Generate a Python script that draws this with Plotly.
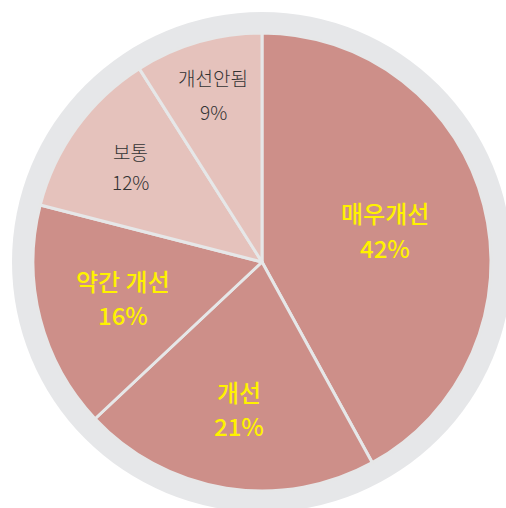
import math
import plotly.graph_objects as go

labels = ["매우개선", "개선", "약간 개선", "보통", "개선안됨"]
values = [42, 21, 16, 12, 9]
pct_labels = ["42%", "21%", "16%", "12%", "9%"]

W, H = 506, 508
CX, CY = 262, 262   # pie center in px (from top-left)
R_PIE = 229
R_RING = 250

dark = "#CD8F89"
light = "#E5C2BC"
slice_colors = [dark, dark, dark, light, light]
text_colors = ["#FFF200", "#FFF200", "#FFF200", "#333333", "#333333"]
text_sizes = [24, 24, 24, 19, 19]
text_weights = [500, 500, 500, 300, 300]
label_radius = [127, 148, 144, 162, 174]      # px distance of label block from center
line_gap = [35, 34, 34, 30, 34]               # px between the two text lines

fig = go.Figure(go.Pie(
    labels=labels,
    values=values,
    sort=False,
    direction="clockwise",
    rotation=0,
    marker=dict(colors=slice_colors, line=dict(color="#E6E7E8", width=3)),
    textinfo="none",
    hoverinfo="label+percent",
    showlegend=False,
    domain=dict(
        x=[(CX - R_PIE) / W, (CX + R_PIE) / W],
        y=[(H - CY - R_PIE) / H, (H - CY + R_PIE) / H],
    ),
))

fig.add_shape(
    type="circle", xref="paper", yref="paper", layer="below",
    x0=(CX - R_RING) / W, x1=(CX + R_RING) / W,
    y0=(H - CY - R_RING) / H, y1=(H - CY + R_RING) / H,
    fillcolor="#E6E7E9", line=dict(width=0),
)

total = sum(values)
cum = 0
for i, v in enumerate(values):
    mid = (cum + v / 2) / total * 2 * math.pi
    cum += v
    px = CX + label_radius[i] * math.sin(mid)
    py = CY - label_radius[i] * math.cos(mid)
    font = dict(family="Noto Sans CJK KR", size=text_sizes[i],
                color=text_colors[i], weight=text_weights[i])
    for txt, dy in ((labels[i], -line_gap[i] / 2), (pct_labels[i], line_gap[i] / 2)):
        fig.add_annotation(
            x=px / W, y=1 - (py + dy) / H, xref="paper", yref="paper",
            text=txt, showarrow=False, font=font,
            xanchor="center", yanchor="middle",
        )

fig.update_layout(
    width=W, height=H,
    margin=dict(l=0, r=0, t=0, b=0),
    paper_bgcolor="white",
    plot_bgcolor="white",
    font=dict(family="Noto Sans CJK KR"),
)

fig.write_html("out.html", config={"displayModeBar": False},
               post_script="document.body.style.margin='0';")
